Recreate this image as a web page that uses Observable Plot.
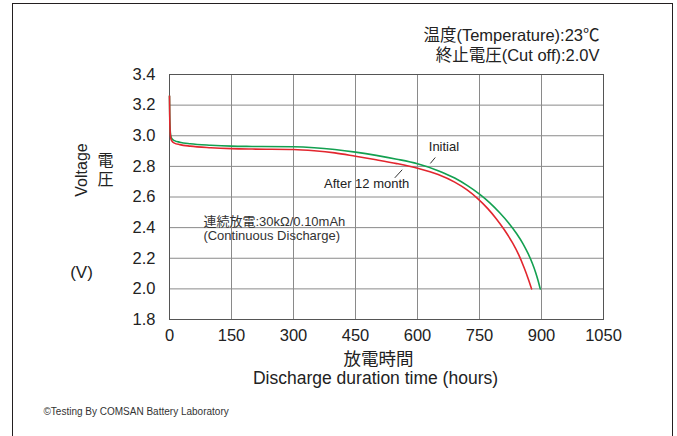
<!DOCTYPE html>
<html>
<head>
<meta charset="utf-8">
<script src="https://cdn.jsdelivr.net/npm/d3@7"></script>
<script src="https://cdn.jsdelivr.net/npm/@observablehq/plot@0.6"></script>
<style>
  html, body { margin: 0; padding: 0; background: #fff; }
  #wrap { position: relative; width: 677px; height: 436px; overflow: hidden; }
  #border { position: absolute; left: 12px; top: 3px; width: 661px; height: 460px; border: 1.6px solid #231f20; box-sizing: border-box; pointer-events: none; }
</style>
</head>
<body>
<div id="wrap"><div id="border"></div></div>
<script>
// Tick values
const xTicks = [0, 150, 300, 450, 600, 750, 900, 1050];
const yTicks = [1.8, 2.0, 2.2, 2.4, 2.6, 2.8, 3.0, 3.2, 3.4];

// Initial (green) series
const initialHours = [0, 0.5, 1.5, 3, 6, 12, 25, 50, 100, 150, 200, 300, 350, 400, 450, 500, 550, 600, 650, 690, 720, 750, 775, 800, 820, 840, 855, 868, 878, 886, 892, 897];
const initialVolts = [3.26, 3.15, 3.05, 3.00, 2.98, 2.968, 2.958, 2.948, 2.938, 2.932, 2.93, 2.928, 2.922, 2.91, 2.893, 2.872, 2.847, 2.817, 2.772, 2.724, 2.676, 2.619, 2.562, 2.494, 2.432, 2.36, 2.296, 2.228, 2.166, 2.106, 2.052, 2.00];

// After 12 month (red) series
const afterHours = [0, 0.5, 1.5, 3, 6, 12, 25, 50, 100, 150, 200, 300, 350, 400, 450, 500, 550, 600, 650, 690, 720, 745, 770, 790, 810, 830, 845, 858, 868, 876];
const afterVolts = [3.26, 3.13, 3.03, 2.985, 2.965, 2.952, 2.942, 2.932, 2.922, 2.916, 2.913, 2.91, 2.902, 2.888, 2.866, 2.843, 2.818, 2.788, 2.747, 2.697, 2.646, 2.591, 2.524, 2.46, 2.386, 2.30, 2.222, 2.138, 2.065, 2.00];

// Annotation labels (data coordinates)
const labelTexts = ["Initial", "After 12 month"];
const labelHours = [664, 477];
const labelVolts = [2.93, 2.688];
const pointerFromHours = [643, 563];
const pointerFromVolts = [2.858, 2.778];
const pointerToHours = [631, 545];
const pointerToVolts = [2.819, 2.725];

const noteLines = ["連続放電:30kΩ/0.10mAh", "(Continuous Discharge)"];
const noteHours = [82, 82];
const noteVolts = [2.44, 2.348];

const titleLines = ["温度(Temperature):23℃", "終止電圧(Cut off):2.0V"];
const xLabelLines = ["放電時間", "Discharge duration time (hours)"];
const caption = "©Testing By COMSAN Battery Laboratory";

const initial = initialHours.map((h, i) => ({h, v: initialVolts[i]}));
const after = afterHours.map((h, i) => ({h, v: afterVolts[i]}));
const labels = labelTexts.map((t, i) => ({t, h: labelHours[i], v: labelVolts[i]}));
const pointers = labelTexts.map((t, i) => ({x1: pointerFromHours[i], y1: pointerFromVolts[i], x2: pointerToHours[i], y2: pointerToVolts[i]}));
const notes = noteLines.map((t, i) => ({t, h: noteHours[i], v: noteVolts[i]}));

const font = "'Liberation Sans', Arial, 'Noto Sans CJK JP', sans-serif";
const cjk = "'Liberation Sans', 'Noto Sans CJK JP', sans-serif";
const mid = {textAnchor: "middle", lineAnchor: "middle"};

const chart = Plot.plot({
  width: 677,
  height: 436,
  marginLeft: 169,
  marginRight: 74,
  marginTop: 74,
  marginBottom: 117,
  style: {fontFamily: font, fontSize: "16px", color: "#222", background: "transparent"},
  x: {domain: [0, 1050], label: null},
  y: {domain: [1.8, 3.4], label: null},
  marks: [
    Plot.gridX(xTicks, {stroke: "#8a8a8a", strokeOpacity: 1}),
    Plot.gridY(yTicks, {stroke: "#8a8a8a", strokeOpacity: 1}),
    Plot.frame({stroke: "#555"}),
    Plot.axisX(xTicks, {tickSize: 0, tickPadding: 10, fontSize: 16.5, tickFormat: d => String(d), label: null}),
    Plot.axisY(yTicks, {tickSize: 0, tickPadding: 14, fontSize: 16.5, tickFormat: d => d.toFixed(1), label: null}),
    Plot.line(initial, {x: "h", y: "v", stroke: "#13a050", strokeWidth: 1.6, curve: "monotone-x"}),
    Plot.line(after, {x: "h", y: "v", stroke: "#e2262e", strokeWidth: 1.6, curve: "monotone-x"}),
    Plot.link(pointers, {x1: "x1", y1: "y1", x2: "x2", y2: "y2", stroke: "#333", strokeWidth: 1}),
    Plot.text(labels, {x: "h", y: "v", text: "t", fontSize: 13, fill: "#222"}),
    Plot.text(notes, {x: "h", y: "v", text: "t", fontSize: 13, textAnchor: "start", fill: "#333", fontFamily: cjk}),
    // Titles top right
    Plot.text([titleLines[0]], {frameAnchor: "top-right", dx: -4, dy: -39, textAnchor: "end", lineAnchor: "middle", fontSize: 16.5, fill: "#222", fontFamily: cjk}),
    Plot.text([titleLines[1]], {frameAnchor: "top-right", dx: -4, dy: -19, textAnchor: "end", lineAnchor: "middle", fontSize: 16.5, fill: "#222", fontFamily: cjk}),
    // Y axis labels
    Plot.text(["Voltage"], {frameAnchor: "left", dx: -88, dy: -27, rotate: -90, fontSize: 16, fill: "#222", ...mid}),
    Plot.text(["電\n圧"], {frameAnchor: "left", dx: -64, dy: -28, fontSize: 16, lineHeight: 1.2, fill: "#222", fontFamily: cjk, ...mid}),
    Plot.text(["(V)"], {frameAnchor: "left", dx: -88, dy: 76, fontSize: 17, fill: "#222", ...mid}),
    // X axis labels
    Plot.text([xLabelLines[0]], {frameAnchor: "bottom", dx: -8, dy: 40, fontSize: 17.5, fill: "#222", fontFamily: cjk, ...mid}),
    Plot.text([xLabelLines[1]], {frameAnchor: "bottom", dx: -11, dy: 59, fontSize: 17.5, fill: "#222", ...mid}),
    // Caption
    Plot.text([caption], {frameAnchor: "bottom-left", dx: -126, dy: 92, textAnchor: "start", lineAnchor: "middle", fontSize: 10, fill: "#333"})
  ]
});
document.getElementById("wrap").prepend(chart);
</script>
</body>
</html>
